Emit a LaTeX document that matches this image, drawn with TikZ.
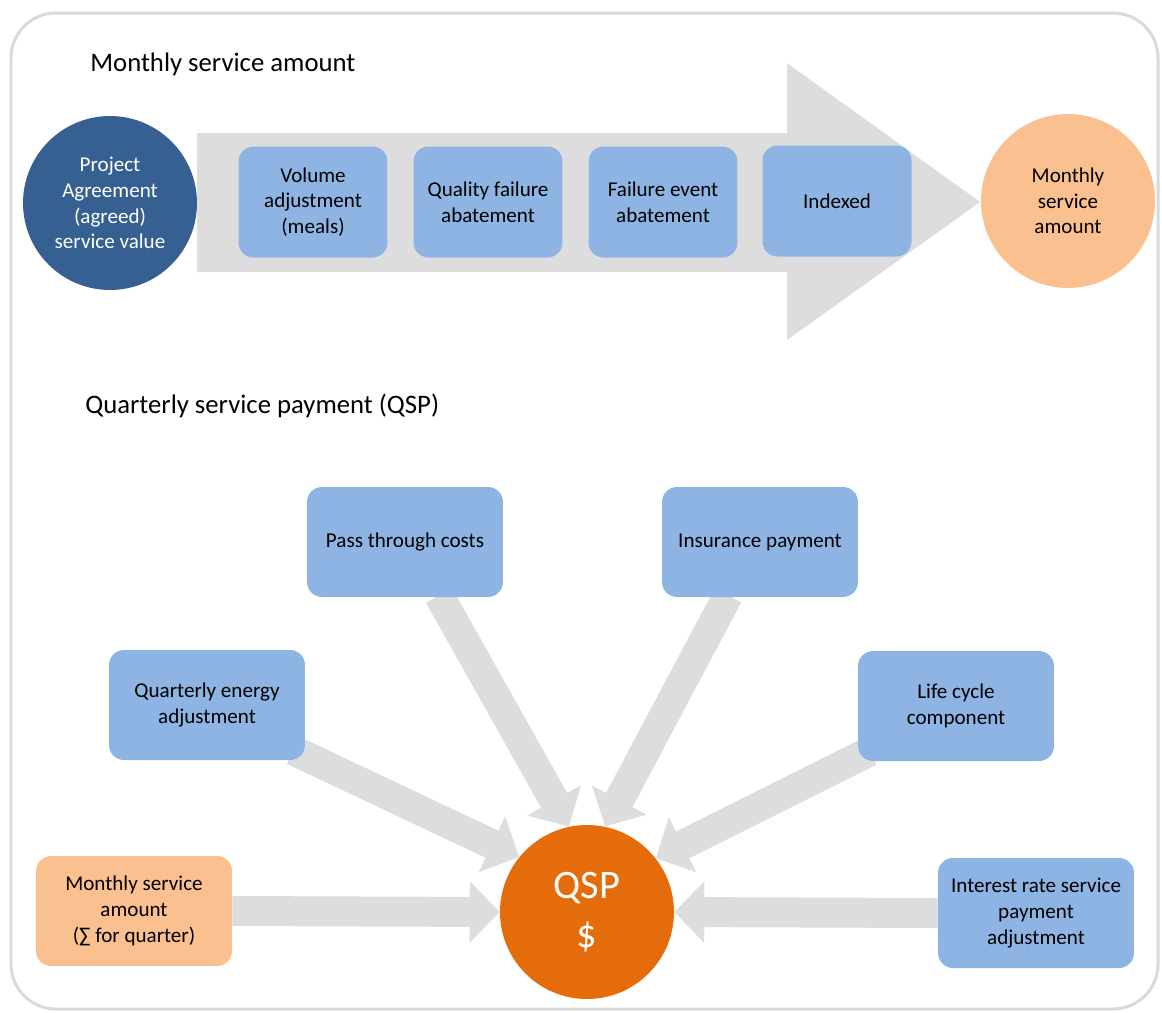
\documentclass[tikz,border=0pt]{standalone}
\usepackage{fontspec}
\setmainfont{Carlito}
\usepackage{xcolor}
\usepackage{tikz}
\usetikzlibrary{arrows.meta,backgrounds}

\definecolor{frameGray}{HTML}{D9D9D9}
\definecolor{flowGray}{HTML}{DDDDDD}
\definecolor{navy}{HTML}{376092}
\definecolor{paleBlue}{HTML}{8EB4E3}
\definecolor{peach}{HTML}{FAC090}
\definecolor{qspOrange}{HTML}{E46C0A}

\tikzset{
  stagebox/.style={rectangle,rounded corners=0.3cm,fill=paleBlue,minimum width=2.98cm,minimum height=2.22cm,align=center,inner sep=2pt,font=\fontsize{12}{14.6}\selectfont},
  feedbox/.style={stagebox,minimum width=3.92cm,minimum height=2.2cm},
  disc/.style={circle,minimum size=3.48cm,inner sep=0pt,align=center,font=\fontsize{12}{14.6}\selectfont},
  feed/.style={flowGray,line width=0.6cm,-{Triangle[width=1.2cm,length=0.6cm]}},
  heading/.style={anchor=base west,inner sep=0pt,font=\fontsize{15.2}{18}\selectfont}
}

\begin{document}
\begin{tikzpicture}[x=0.02cm,y=-0.02cm]
            \useasboundingbox (0,0) rectangle (1162,1012);
            \draw[frameGray,line width=0.06cm,rounded corners=0.9cm] (11,13) rectangle (1158,1009);

            \node [heading] (L1) at (90,71) {Monthly service amount};
            \fill[flowGray] (197,133) -- (787,133) -- (787,63) -- (980,202) -- (787,340) -- (787,272) -- (197,272) -- cycle;
            \node [disc,fill=navy,text=white] (PA) at (110,203) {Project\\Agreement\\(agreed)\\service value};
            \node [stagebox] (V) at (313,202) {Volume\\adjustment\\(meals)};
            \node [stagebox] (QF) at (488,202) {Quality failure\\abatement};
            \node [stagebox] (FE) at (663,202) {Failure event\\abatement};
            \node [stagebox] (IX) at (837,201) {Indexed};
            \node [disc,fill=peach] (MS) at (1068,201) {Monthly\\service\\amount};

            \node [heading] (L2) at (85,413) {Quarterly service payment (QSP)};
            \node [disc,fill=qspOrange,text=white,font=\fontsize{23}{28}\selectfont] (Q) at (587,912) {QSP\\\$};
            \node [feedbox] (PT) at (405,542) {Pass through costs};
            \node [feedbox] (IP) at (760,542) {Insurance payment};
            \node [feedbox] (QE) at (207,705) {Quarterly energy\\adjustment};
            \node [feedbox] (LC) at (956,706) {Life cycle\\component};
            \node [feedbox,fill=peach] (MQ) at (134,911) {Monthly service\\amount\\(∑ for quarter)};
            \node [feedbox] (IR) at (1036,913) {Interest rate service\\payment\\adjustment};

            \begin{scope}[on background layer]
            \draw[feed] ([shift={(34,-2)}]PT.south) -- (Q.102);
            \draw[feed] ([shift={(-32,-2)}]IP.south) -- (Q.78);
            \draw[feed] ([shift={(-12,-10)}]QE.south east) -- (Q.141);
            \draw[feed] ([shift={(12,-10)}]LC.south west) -- (Q.38);
            \draw[feed] (MQ.east) -- (Q.west);
            \draw[feed] (IR.west) -- (Q.east);
            \end{scope}

        \end{tikzpicture}
\end{document}
